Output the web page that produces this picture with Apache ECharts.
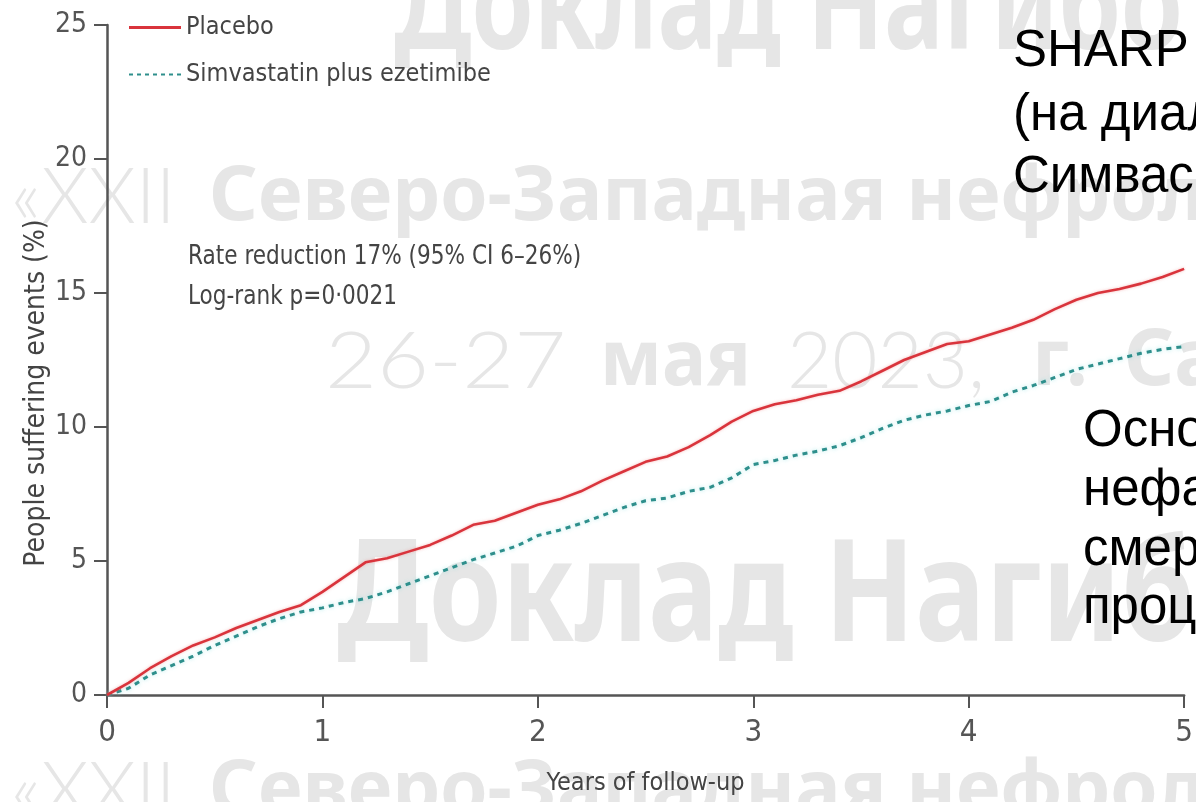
<!DOCTYPE html>
<html><head><meta charset="utf-8">
<script src="https://cdn.jsdelivr.net/npm/echarts@6/dist/echarts.min.js"></script>
<style>html,body{margin:0;padding:0;background:#fff}#c{width:1196px;height:802px}</style>
</head><body><div id="c"></div>
<script>
// ---- data ----
const years = [0,0.1,0.2,0.3,0.4,0.5,0.6,0.7,0.8,0.9,1.0,1.1,1.2,1.3,1.4,1.5,1.6,1.7,1.8,1.9,2.0,2.1,2.2,2.3,2.4,2.5,2.6,2.7,2.8,2.9,3.0,3.1,3.2,3.3,3.4,3.5,3.6,3.7,3.8,3.9,4.0,4.1,4.2,4.3,4.4,4.5,4.6,4.7,4.8,4.9,5.0];
const placebo = [0,0.45,1.0,1.45,1.85,2.15,2.5,2.8,3.1,3.35,3.85,4.4,4.95,5.1,5.35,5.6,5.95,6.35,6.5,6.8,7.1,7.3,7.6,8.0,8.35,8.7,8.9,9.25,9.7,10.2,10.6,10.85,11.0,11.2,11.35,11.7,12.1,12.5,12.8,13.1,13.2,13.45,13.7,14.0,14.4,14.75,15.0,15.15,15.35,15.6,15.9];
const simvaEze = [0,0.25,0.75,1.1,1.45,1.85,2.2,2.55,2.85,3.1,3.25,3.45,3.6,3.85,4.15,4.45,4.75,5.05,5.3,5.55,5.95,6.15,6.4,6.7,7.0,7.25,7.35,7.6,7.75,8.1,8.6,8.75,8.95,9.1,9.3,9.6,9.95,10.25,10.45,10.6,10.8,10.95,11.3,11.55,11.85,12.15,12.35,12.55,12.75,12.9,13.0];
const seriesNames = ['Placebo', 'Simvastatin plus ezetimibe'];
const xTickLabels = ['0','1','2','3','4','5'];
const yTickLabels = ['0','5','10','15','20','25'];
const xAxisTitle = 'Years of follow-up';
const yAxisTitle = 'People suffering events (%)';
const statLines = ['Rate reduction 17% (95% CI 6\u201326%)', 'Log-rank p=0\u00b70021'];
const slideLinesTop = ['SHARP', '(\u043d\u0430 \u0434\u0438\u0430\u043b', '\u0421\u0438\u043c\u0432\u0430\u0441'];
const slideLinesBottom = ['\u041e\u0441\u043d\u043e', '\u043d\u0435\u0444\u0430', '\u0441\u043c\u0435\u0440', '\u043f\u0440\u043e\u0446'];
const wmReport = '\u0414\u043e\u043a\u043b\u0430\u0434 \u041d\u0430\u0433\u0438\u0431\u043e';
const wmConfA = '\u00abXXII';
const wmConfB = '\u0421\u0435\u0432\u0435\u0440\u043e-\u0417\u0430\u043f\u0430\u0434\u043d\u0430\u044f \u043d\u0435\u0444\u0440\u043e\u043b';
const wmDate = ['26-27', '\u043c\u0430\u044f', '2023,', '\u0433.', '\u0421\u0430'];

const NARROW = "'Liberation Sans Narrow','DejaVu Sans Condensed','Roboto Condensed',sans-serif";
const TXT = '#444';
const AX = '#555';
const WM = '#e6e6e6';
const RED = '#d9343c';
const TEAL = '#2e8f8c';
const DASH_ICON = 'path://M0,0h4v2h-4z M8,0h4v2h-4z M16,0h4v2h-4z M24,0h4v2h-4z M32,0h4v2h-4z M40,0h4v2h-4z M48,0h4v2h-4z';

const chart = echarts.init(document.getElementById('c'), null, {renderer: 'canvas'});

function wm(text, x, y, size, weight, family, sy, sx) {
  return {type: 'text', x: x, y: y, scaleY: sy || 1, scaleX: sx || 1, z: -10, silent: true,
    style: {text: text, fontSize: size, fontWeight: weight, fontFamily: family, fill: WM, verticalAlign: 'middle', align: 'left'}};
}
function blk(text, x, y) {
  return {type: 'text', x: x, y: y, z: 100, silent: true,
    style: {text: text, fontSize: 51, fontFamily: "'Liberation Sans',Arial,sans-serif", fill: '#000', verticalAlign: 'middle', align: 'left'}};
}
function note(text, y) {
  return {type: 'text', x: 188, y: y, scaleX: 0.89, z: 50, silent: true,
    style: {text: text, fontSize: 27, fontFamily: NARROW, fill: TXT, verticalAlign: 'middle', align: 'left'}};
}
const BOLD = "'Noto Sans','Open Sans',sans-serif";
const LIGHT = "'Lato','Open Sans',sans-serif";

const graphics = [
  wm(wmReport, 394, 12, 100, 'bold', BOLD, 1.3),
  wm(wmConfA, 11, 198, 76, 300, LIGHT, 1),
  wm(wmConfB, 209, 198, 76, 'bold', BOLD, 1),
  wm(wmDate[0], 325, 363, 78, 300, LIGHT, 1, 1.15),
  wm(wmDate[1], 600, 363, 74, 'bold', BOLD, 1.05),
  wm(wmDate[2], 787, 363, 78, 300, LIGHT, 1),
  wm(wmDate[3], 1032, 363, 78, 'bold', BOLD, 1),
  wm(wmDate[4], 1124, 363, 78, 'bold', BOLD, 1),
  wm(wmReport, 337, 601, 118, 'bold', BOLD, 1.2),
  wm(wmConfA, 11, 792, 76, 300, LIGHT, 1),
  wm(wmConfB, 209, 792, 76, 'bold', BOLD, 1),
  note(statLines[0], 257),
  note(statLines[1], 297)
];
slideLinesTop.forEach((t, i) => graphics.push(blk(t, 1013, [52, 116, 178][i])));
slideLinesBottom.forEach((t, i) => graphics.push(blk(t, 1083, [432, 491, 551, 609][i])));

const option = {
  animation: false,
  backgroundColor: '#fff',
  grid: {left: 107, right: 6, top: 25, bottom: 107, containLabel: false},
  legend: {
    data: [{name: seriesNames[0], icon: 'rect'}, {name: seriesNames[1], icon: DASH_ICON}],
    orient: 'vertical', left: 129, top: 15,
    itemWidth: 52, itemHeight: 3, itemGap: 22, padding: 0,
    textStyle: {fontSize: 25, color: TXT, fontFamily: NARROW}
  },
  xAxis: {
    type: 'value', min: 0, max: 5, interval: 1,
    name: xAxisTitle, nameLocation: 'middle', nameGap: 76,
    nameTextStyle: {fontSize: 25, color: TXT, fontFamily: NARROW},
    axisLine: {lineStyle: {color: AX, width: 2.5}},
    axisTick: {show: true, length: 13, lineStyle: {color: AX, width: 2}},
    axisLabel: {fontSize: 31, color: AX, margin: 22, fontFamily: NARROW,
      formatter: v => xTickLabels[Math.round(v)]},
    splitLine: {show: false}
  },
  yAxis: {
    type: 'value', min: 0, max: 25, interval: 5,
    name: yAxisTitle, nameLocation: 'middle', nameGap: 56, nameMoveOverlap: false,
    nameTextStyle: {fontSize: 28, color: TXT, fontFamily: NARROW, padding: [0, 66, 0, 0]},
    axisLine: {show: true, lineStyle: {color: AX, width: 2.5}},
    axisTick: {show: true, length: 13, lineStyle: {color: AX, width: 2}},
    axisLabel: {fontSize: 28, color: AX, margin: 20, fontFamily: NARROW,
      formatter: v => yTickLabels[Math.round(v / 5)]},
    splitLine: {show: false}
  },
  series: [
    {name: seriesNames[0], type: 'line', showSymbol: false, symbol: 'none', z: 5,
      data: years.map((t, i) => [t, placebo[i]]),
      lineStyle: {color: RED, width: 2.6, shadowColor: 'rgba(240,120,120,0.5)', shadowBlur: 3},
      itemStyle: {color: RED}},
    {name: seriesNames[1], type: 'line', showSymbol: false, symbol: 'none', z: 4,
      data: years.map((t, i) => [t, simvaEze[i]]),
      lineStyle: {color: TEAL, width: 3, type: [5, 5], shadowColor: 'rgba(120,220,220,0.6)', shadowBlur: 4},
      itemStyle: {color: TEAL}}
  ],
  graphic: graphics
};
chart.setOption(option);
</script>
</body></html>
